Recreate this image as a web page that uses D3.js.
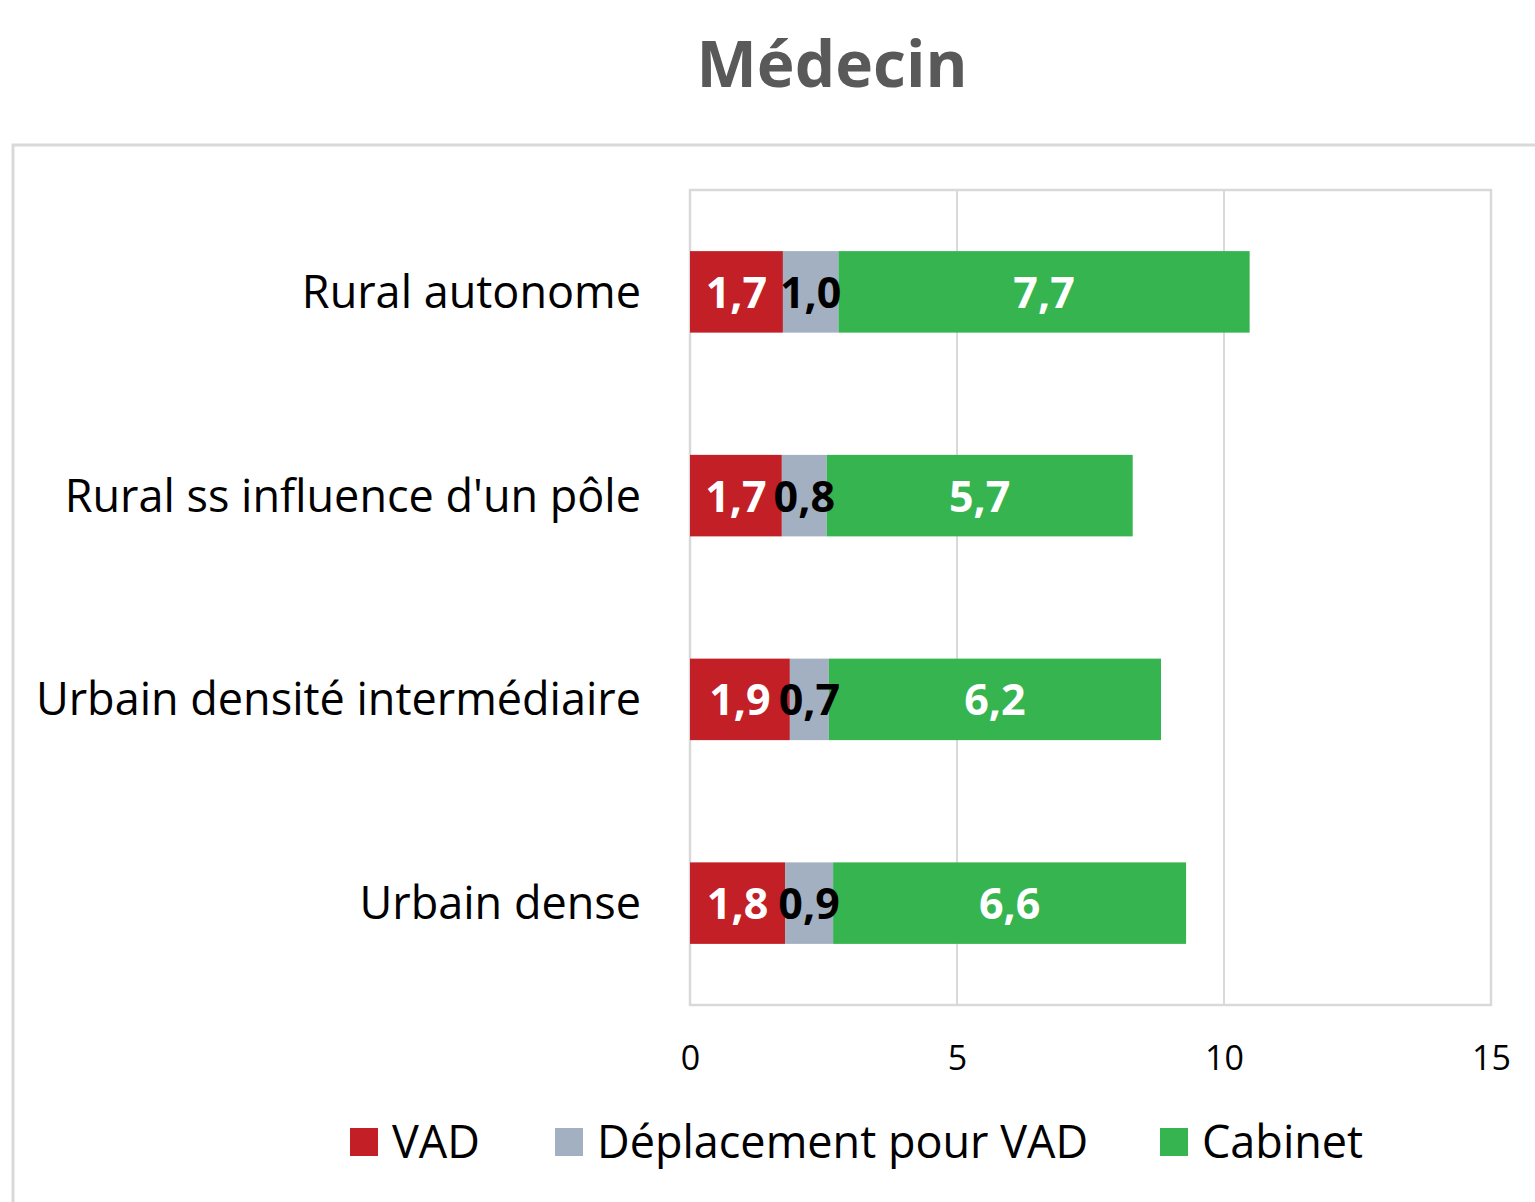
<!DOCTYPE html>
<html>
<head>
<meta charset="utf-8">
<script src="https://cdn.jsdelivr.net/npm/d3@7"></script>
<style>
  body { margin: 0; background: #fff; }
  text { font-family: "Open Sans", "DejaVu Sans", sans-serif; }
</style>
</head>
<body>
<svg id="chart" width="1535" height="1202"></svg>
<script>
// values
var categories = ["Rural autonome", "Rural ss influence d'un pôle", "Urbain densité intermédiaire", "Urbain dense"];
var seriesNames = ["VAD", "Déplacement pour VAD", "Cabinet"];
var vad = [1.74, 1.72, 1.87, 1.78];
var deplacement = [1.04, 0.84, 0.73, 0.90];
var cabinet = [7.70, 5.73, 6.22, 6.61];
var xTicks = [0, 5, 10, 15];
var colors = ["#C21F27", "#A2B0C1", "#35B44F"];
var labelColors = ["#ffffff", "#000000", "#ffffff"];

var svg = d3.select("#chart");
var margin = {left: 690, right: 1491, top: 190, bottom: 1005};

// outer chart frame
svg.append("rect")
    .attr("x", 13).attr("y", 145)
    .attr("width", 1535).attr("height", 1100)
    .attr("fill", "none")
    .attr("stroke", "#d9d9d9").attr("stroke-width", 3);

svg.append("text")
    .attr("x", 832).attr("y", 87)
    .attr("text-anchor", "middle")
    .attr("font-size", 64).attr("font-weight", "bold")
    .attr("fill", "#595959")
    .text("Médecin");

var x = d3.scaleLinear().domain([0, 15]).range([margin.left, margin.right]);
var y = d3.scaleBand().domain(categories).range([margin.top, margin.bottom]).paddingInner(0.6).paddingOuter(0.3);

// gridlines
svg.append("g").selectAll("line")
    .data(xTicks.slice(1, 3))
    .join("line")
    .attr("x1", function (d) { return x(d); })
    .attr("x2", function (d) { return x(d); })
    .attr("y1", margin.top).attr("y2", margin.bottom)
    .attr("stroke", "#d9d9d9").attr("stroke-width", 2);

svg.append("rect")
    .attr("x", margin.left).attr("y", margin.top)
    .attr("width", margin.right - margin.left)
    .attr("height", margin.bottom - margin.top)
    .attr("fill", "none")
    .attr("stroke", "#d9d9d9").attr("stroke-width", 2.5);

var rows = categories.map(function (c, i) {
    return {cat: c, VAD: vad[i], "Déplacement pour VAD": deplacement[i], Cabinet: cabinet[i]};
});
var stacked = d3.stack().keys(seriesNames)(rows);

var layers = svg.append("g").selectAll("g")
    .data(stacked)
    .join("g")
    .attr("fill", function (d, i) { return colors[i]; });

layers.selectAll("rect")
    .data(function (d) { return d; })
    .join("rect")
    .attr("x", function (d) { return x(d[0]); })
    .attr("y", function (d) { return y(d.data.cat); })
    .attr("width", function (d) { return x(d[1]) - x(d[0]); })
    .attr("height", y.bandwidth());

var fmt = function (v) { return v.toFixed(1).replace(".", ","); };

svg.append("g").selectAll("g")
    .data(stacked)
    .join("g")
    .attr("fill", function (d, i) { return labelColors[i]; })
    .selectAll("text")
    .data(function (d) { return d.map(function (p) { return {p: p, key: d.key}; }); })
    .join("text")
    .attr("x", function (d) { return (x(d.p[0]) + x(d.p[1])) / 2; })
    .attr("y", function (d) { return y(d.p.data.cat) + y.bandwidth() / 2 + 16; })
    .attr("text-anchor", "middle")
    .attr("font-size", 43).attr("font-weight", "bold")
    .text(function (d) { return fmt(d.p.data[d.key]); });

// category labels
svg.append("g").selectAll("text")
    .data(categories)
    .join("text")
    .attr("x", 641)
    .attr("y", function (d) { return y(d) + y.bandwidth() / 2 + 16; })
    .attr("text-anchor", "end")
    .attr("font-size", 45)
    .attr("fill", "#000")
    .text(function (d) { return d; });

// x axis
var xAxis = svg.append("g")
    .attr("transform", "translate(0," + margin.bottom + ")")
    .call(d3.axisBottom(x).tickValues(xTicks).tickSize(0).tickPadding(41));
xAxis.select(".domain").remove();
xAxis.selectAll("text")
    .attr("font-size", 34)
    .attr("font-family", "'Open Sans', sans-serif")
    .attr("fill", "#000");

// legend
var legendX = [350, 555, 1160];
var legend = svg.append("g").selectAll("g")
    .data(seriesNames)
    .join("g")
    .attr("transform", function (d, i) { return "translate(" + legendX[i] + ",1128)"; });
legend.append("rect")
    .attr("width", 28).attr("height", 28)
    .attr("fill", function (d, i) { return colors[i]; });
legend.append("text")
    .attr("x", 42).attr("y", 30)
    .attr("font-size", 45)
    .attr("fill", "#000")
    .text(function (d) { return d; });
</script>
</body>
</html>
